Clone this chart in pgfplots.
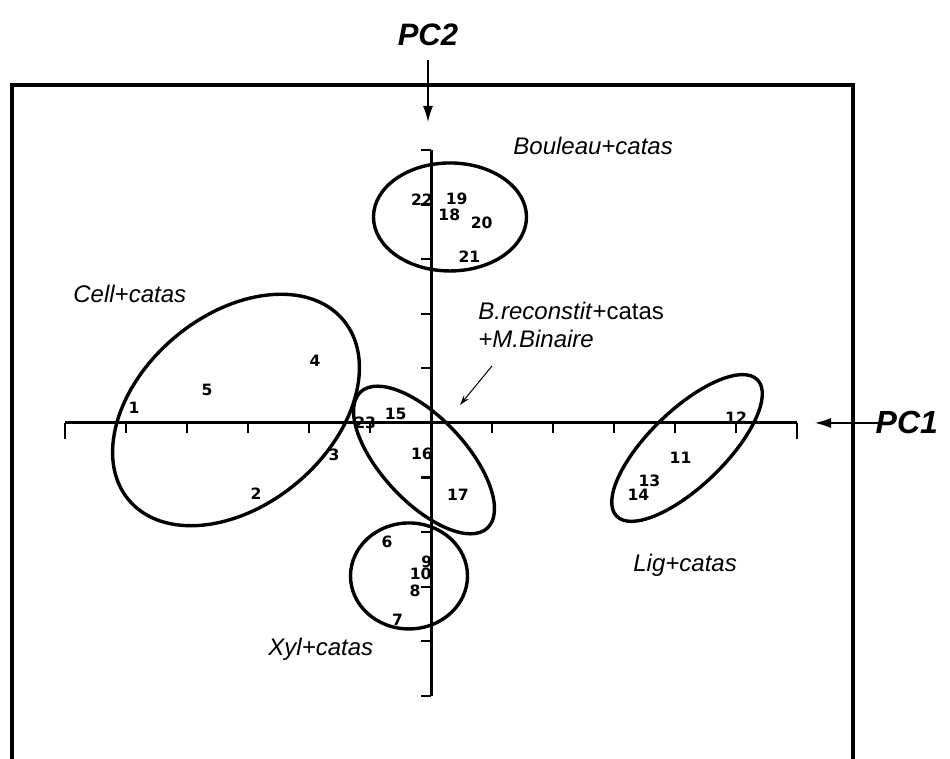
\documentclass[border=0pt]{standalone}
\usepackage{fontspec}
\setmainfont{Liberation Sans}
\newfontfamily\numfont{DejaVu Sans}
\usepackage{pgfplots}
\usepackage{pgfplotstable}
\pgfplotsset{compat=1.18}
\usetikzlibrary{arrows.meta}

% sample scores on PC1 / PC2
\pgfplotstableread{
x y lab
-4.87 0.28 1
-2.87 -1.30 2
-1.59 -0.59 3
-1.90 1.14 4
-3.67 0.60 5
-0.72 -2.17 6
-0.55 -3.61 7
-0.26 -3.07 8
-0.07 -2.54 9
-0.17 -2.77 10
4.09 -0.63 11
5.00 0.09 12
3.58 -1.06 13
3.40 -1.31 14
-0.58 0.16 15
-0.15 -0.57 16
0.44 -1.32 17
0.30 3.82 18
0.42 4.11 19
0.83 3.67 20
0.63 3.04 21
-0.15 4.08 22
-1.08 0.00 23
}\scores

\begin{document}
\begin{tikzpicture}
\begin{axis}[
  x=30.5pt, y=27.3pt,
  xmin=-6, xmax=6, ymin=-5, ymax=5,
  axis lines=middle,
  x axis line style={-}, y axis line style={-},
  axis line style={line width=1.5pt},
  xtick={-5,...,5}, ytick={-5,...,5},
  xticklabels={}, yticklabels={},
  major tick length=5pt,
  xtick style={line width=1.1pt, black, yshift=-2.5pt},
  ytick style={line width=1.1pt, black, xshift=-2.5pt},
  extra x ticks={-6,6}, extra x tick labels={},
  extra x tick style={major tick length=8pt, tick style={yshift=-1.5pt}},
  clip=false,
]
\addplot[draw=none, mark=none, nodes near coords, point meta=explicit symbolic,
  nodes near coords align=center,
  every node near coord/.append style={font=\numfont\bfseries\fontsize{7.8}{9}\selectfont, inner sep=0pt}]
  table[x=x, y=y, meta=lab] {\scores};

% groups
\draw[line width=1.7pt, rotate around={40:(axis cs:-3.197,0.238)}] (axis cs:-3.197,0.238) ellipse [x radius=70pt, y radius=47.5pt];
\draw[line width=1.7pt] (axis cs:0.311,3.773) ellipse [x radius=38.25pt, y radius=27pt];
\draw[line width=1.7pt, rotate around={-47:(axis cs:-0.115,-0.678)}] (axis cs:-0.115,-0.678) ellipse [x radius=46.5pt, y radius=21pt];
\draw[line width=1.7pt] (axis cs:-0.361,-2.802) ellipse [x radius=29.25pt, y radius=26.5pt];
\draw[line width=1.7pt, rotate around={44:(axis cs:4.197,-0.458)}] (axis cs:4.197,-0.458) ellipse [x radius=49pt, y radius=19pt];

\begin{scope}[every node/.style={font=\fontsize{12}{14}\selectfont, inner sep=0pt, anchor=base west}]
\node at (axis cs:1.344,4.908) {\itshape Bouleau+catas};
\node at (axis cs:-5.869,2.212) {\itshape Cell+catas};
\node at (axis cs:0.77,1.886) {\textit{B.reconstit}+catas};
\node at (axis cs:0.77,1.374) {\itshape +M.Binaire};
\node at (axis cs:3.311,-2.729) {\itshape Lig+catas};
\node at (axis cs:-2.672,-4.26) {\itshape Xyl+catas};
\end{scope}
\draw[line width=0.5pt, -{Stealth[length=5pt,width=3pt]}] (axis cs:1.0,1.044) -- (axis cs:0.475,0.33);

% axis names
\node[font=\bfseries\itshape\fontsize{15.5}{18}\selectfont] at (axis cs:-0.05,7.106) {PC2};
\node[font=\bfseries\itshape\fontsize{16}{18}\selectfont] at (axis cs:7.80,0) {PC1};
\draw[line width=0.6pt, -{Latex[length=8pt,width=5pt]}] (axis cs:-0.05,6.648) -- (axis cs:-0.05,5.513);
\draw[line width=0.6pt, -{Latex[length=8pt,width=5pt]}] (axis cs:7.36,0) -- (axis cs:6.295,0);

% frame (open at the bottom, cut by the page)
\draw[line width=2.4pt] (axis cs:-6.869,-6.6) -- (axis cs:-6.869,6.19) -- (axis cs:6.918,6.19) -- (axis cs:6.918,-6.6);

\coordinate (bbl) at (axis cs:-7.066,-6.136);
\coordinate (btr) at (axis cs:8.508,7.747);
\end{axis}
\pgfresetboundingbox
\useasboundingbox (bbl) rectangle (btr);
\end{tikzpicture}
\end{document}
